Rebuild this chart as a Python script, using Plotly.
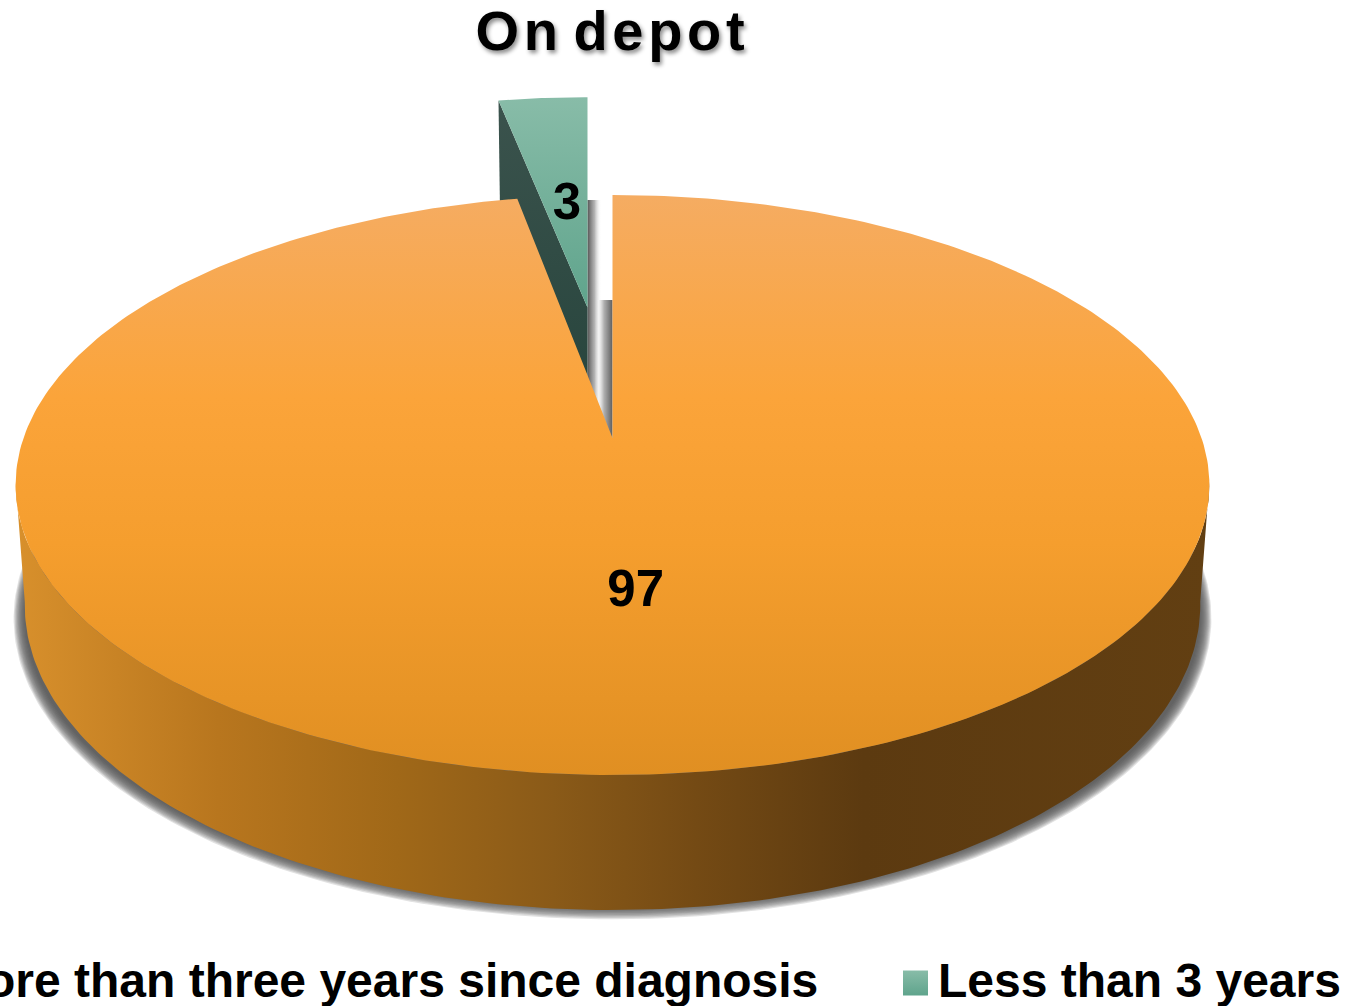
import numpy as np
import plotly.graph_objects as go

categories = ['More than three years since diagnosis', 'Less than 3 years']
values = [97, 3]
title_text = 'O\u200an d\u200ae\u200ap\u200ao\u200at'

# projection of the tilted disc, in page pixels
WIDTH, HEIGHT = 1347, 1006
CX, DEPTH_K = 612.5, 0.162
TOP_Y, TOP_A, TOP_B = 438, 589, 282.4
BOT_Y, BOT_A, BOT_B = 555.6, 580, 297
EXPLODE_Y, EXPLODE_PX = 0.5, -25
SILHOUETTE = 98.7  # angle where the disc is widest on screen


def project(X, Y, y0=TOP_Y, a=TOP_A, b=TOP_B):
    w = 1 + DEPTH_K * Y
    return CX + a * X / w, y0 - b * Y / w


def polar(theta, r=1.0):
    t = np.radians(theta)
    return r * np.sin(t), r * np.cos(t)


def fill_trace(x, y, name, color=None, gradient=None):
    kw = dict(fillgradient=gradient) if gradient else dict(fillcolor=color)
    return go.Scatter(x=list(x), y=list(y), mode='lines', fill='toself', name=name,
                      line=dict(width=0), hoverinfo='skip', showlegend=False, **kw)


sweep = [v / sum(values) * 360 for v in values]
big_end = sweep[0]
small_mid = big_end + sweep[1] / 2

fig = go.Figure()

# soft shadow under the disc
for k in range(12):
    X, Y = polar(np.linspace(0, 360, 361))
    sx, sy = project(X, Y, BOT_Y + 14, BOT_A + k, 282 + k)
    keep = sy >= 540
    fig.add_trace(fill_trace(sx[keep], sy[keep], 'shadow', color='rgba(85,85,85,0.17)'))

# pulled out slice
X, Y = polar(np.linspace(big_end, 360, 30))
sx_top, sy_top = project(X, Y + EXPLODE_Y)
sx_top = sx_top + EXPLODE_PX
ax_top, ay_top = project(0, EXPLODE_Y)
ax_top = ax_top + EXPLODE_PX
lx_bot, ly_bot = project(X[0], Y[0] + EXPLODE_Y, BOT_Y, BOT_A, BOT_B)
ax_bot, ay_bot = project(0, EXPLODE_Y, BOT_Y, BOT_A, BOT_B)

# shadow thrown by the slice and the inner wall of the big slice
ox, oy = project(0, 1)
bx, by = project(0, 1, BOT_Y, BOT_A, BOT_B)
fig.add_trace(fill_trace([ax_top, ax_top + 14, ax_top + 14, ax_top],
                         [oy + 5, oy + 5, TOP_Y, TOP_Y], 'slice shadow',
                         gradient=dict(type='horizontal', colorscale=[
                             [0, 'rgba(85,85,85,1)'], [0.5, 'rgba(160,160,160,0.8)'], [1, 'rgba(255,255,255,0)']])))
fig.add_trace(fill_trace([ox - 14, ox, ox, ox - 14], [by, by, TOP_Y, TOP_Y], 'inner wall',
                         gradient=dict(type='horizontal', colorscale=[
                             [0, 'rgba(190,190,190,0)'], [0.4, 'rgba(175,175,175,1)'], [1, 'rgba(95,95,95,1)']])))

# the vertical gradients run from the bottom of the page up
fig.add_trace(fill_trace([sx_top[0], ax_top, ax_bot + EXPLODE_PX, lx_bot + EXPLODE_PX],
                         [sy_top[0], ay_top, ay_bot, ly_bot], categories[1] + ' side',
                         gradient=dict(type='vertical', colorscale=[[0, '#26443C'], [1, '#3B534D']])))
fig.add_trace(fill_trace(np.r_[sx_top, ax_top], np.r_[sy_top, ay_top], categories[1],
                         gradient=dict(type='vertical', colorscale=[[0, '#5FA48C'], [1, '#88BCA8']])))

# big slice, side wall first
X, Y = polar(np.linspace(SILHOUETTE, 360 - SILHOUETTE, 180))
tx, ty = project(X, Y)
bx2, by2 = project(X, Y, BOT_Y, BOT_A, BOT_B)
fig.add_trace(fill_trace(np.r_[tx, bx2[::-1]], np.r_[ty, by2[::-1]], categories[0] + ' side',
                         gradient=dict(type='horizontal', colorscale=[
                             [0, '#D8902C'], [0.17, '#B8761E'], [0.32, '#A06818'], [0.45, '#8A5A18'],
                             [0.57, '#744A14'], [0.71, '#5C3A10'], [1, '#623F12']])))

X, Y = polar(np.linspace(0, big_end, 360))
tx, ty = project(X, Y)
fig.add_trace(fill_trace(np.r_[tx, CX], np.r_[ty, TOP_Y], categories[0],
                         gradient=dict(type='vertical', colorscale=[
                             [0, '#E08F22'], [0.4, '#F59E2E'], [0.65, '#FBA43A'], [1, '#F5AC62']])))

# slice labels sit about half way out along each slice
X, Y = polar(big_end / 2 + 1.3, 0.505)
lx, ly = project(X, Y)
fig.add_trace(go.Scatter(x=[lx], y=[ly], mode='text', text=[str(values[0])], hoverinfo='skip', showlegend=False,
                         textfont=dict(family='Liberation Sans', size=51, color='black', weight='bold')))
X, Y = polar(small_mid, 0.45)
lx, ly = project(X, Y + EXPLODE_Y)
fig.add_trace(go.Scatter(x=[lx + EXPLODE_PX + 1], y=[ly], mode='text', text=[str(values[1])], hoverinfo='skip', showlegend=False,
                         textfont=dict(family='Liberation Sans', size=51, color='black', weight='bold')))

# legend, its first entry runs off the left of the page in the original
fig.add_trace(go.Scatter(x=[915.5], y=[983], mode='markers', hoverinfo='skip', showlegend=False,
                         marker=dict(symbol='square', size=25, color='#88BCA8', line=dict(width=0),
                                     gradient=dict(type='vertical', color='#5FA48C'))))
legend_font = dict(family='Liberation Sans', size=48, color='black', weight='bold')
fig.add_annotation(x=820, y=980, xref='x', yref='y', xanchor='right', yanchor='middle', showarrow=False,
                   text=categories[0], font=legend_font)
fig.add_annotation(x=936, y=980, xref='x', yref='y', xanchor='left', yanchor='middle', showarrow=False,
                   text=categories[1], font=legend_font)

fig.update_layout(
    width=WIDTH, height=HEIGHT,
    margin=dict(l=0, r=0, t=0, b=0),
    paper_bgcolor='white', plot_bgcolor='white',
    showlegend=False,
    title=dict(text=title_text, x=610 / WIDTH, xanchor='center', y=1 - 30 / HEIGHT, yanchor='middle',
               font=dict(family='Liberation Sans', size=56, color='black', weight='bold',
                         shadow='2px 3px 4px rgba(0,0,0,0.45)')),
    xaxis=dict(range=[0, WIDTH], visible=False, fixedrange=True),
    yaxis=dict(range=[HEIGHT, 0], visible=False, fixedrange=True),
)

fig.write_html("out.html", config=dict(displayModeBar=False),
               post_script="document.body.style.margin='0';document.body.style.overflow='hidden';")
